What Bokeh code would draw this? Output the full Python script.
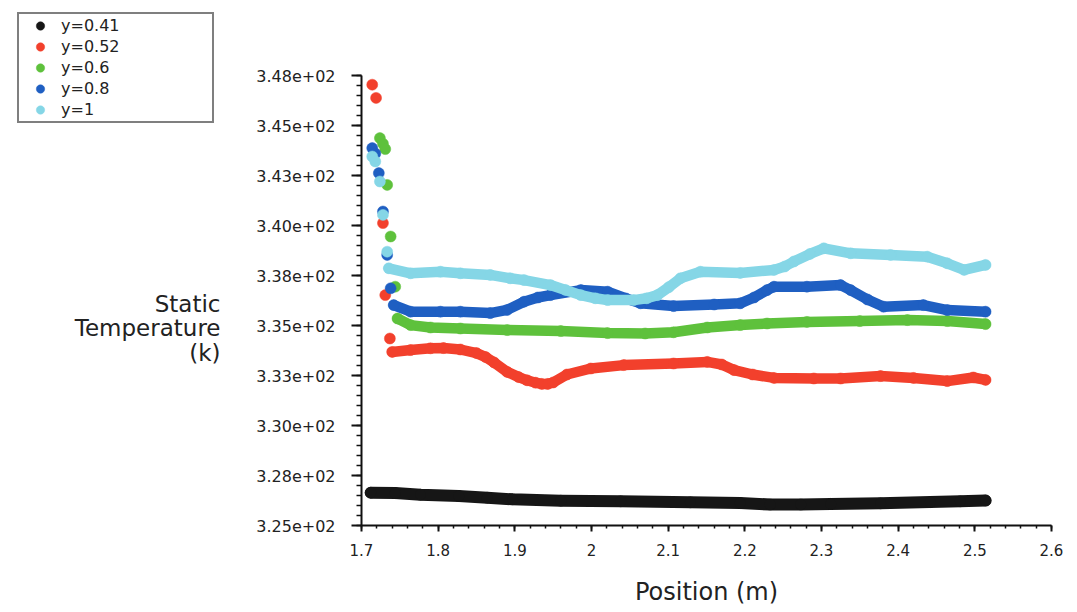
from bokeh.plotting import figure
from bokeh.models import FixedTicker, Legend, LegendItem, Label, Range1d, LinearAxis
from bokeh.embed import file_html
from bokeh.resources import INLINE

# ---- data: static temperature (K) against position (m) ----
# Isolated points at the leading edge, then the continuous profile.

t041_pos = [1.712, 1.744, 1.777, 1.827, 1.864, 1.897, 1.960, 2.038, 2.129,
            2.194, 2.233, 2.273, 2.312, 2.377, 2.442, 2.481, 2.514]
t041_val = [326.64, 326.62, 326.54, 326.47, 326.39, 326.31, 326.24, 326.21, 326.16,
            326.12, 326.05, 326.05, 326.08, 326.11, 326.17, 326.21, 326.25]

t052_tip_pos = [1.714, 1.719, 1.728, 1.731, 1.737]
t052_tip_val = [347.04, 346.38, 340.12, 336.52, 334.35]
t052_pos = [1.740, 1.764, 1.790, 1.807, 1.829, 1.850, 1.862, 1.873, 1.890, 1.905,
            1.916, 1.927, 1.935, 1.943, 1.950, 1.968, 1.999, 2.042, 2.107, 2.151,
            2.170, 2.186, 2.210, 2.238, 2.290, 2.325, 2.377, 2.420, 2.464, 2.498, 2.514]
t052_val = [333.68, 333.77, 333.86, 333.87, 333.80, 333.62, 333.42, 333.15, 332.68, 332.42,
            332.26, 332.14, 332.08, 332.08, 332.15, 332.55, 332.85, 333.02, 333.10, 333.18,
            333.05, 332.77, 332.55, 332.38, 332.35, 332.35, 332.47, 332.38, 332.22, 332.40,
            332.28]

t06_tip_pos = [1.724, 1.728, 1.731, 1.7335, 1.738, 1.744]
t06_tip_val = [344.37, 344.09, 343.82, 342.03, 339.45, 336.94]
t06_pos = [1.747, 1.764, 1.790, 1.829, 1.890, 1.960, 2.021, 2.070, 2.107, 2.151,
           2.194, 2.229, 2.281, 2.350, 2.412, 2.464, 2.514]
t06_val = [335.35, 335.02, 334.90, 334.85, 334.77, 334.72, 334.62, 334.60, 334.66, 334.90,
           335.02, 335.10, 335.18, 335.22, 335.27, 335.22, 335.07]

t08_tip_pos = [1.714, 1.718, 1.7226, 1.728, 1.7335, 1.738]
t08_tip_val = [343.87, 343.60, 342.62, 340.70, 338.53, 336.86]
t08_pos = [1.742, 1.764, 1.803, 1.829, 1.868, 1.890, 1.912, 1.930, 1.9465, 1.986,
           2.021, 2.045, 2.064, 2.107, 2.160, 2.194, 2.212, 2.229, 2.238, 2.281,
           2.325, 2.338, 2.360, 2.381, 2.433, 2.464, 2.514]
t08_val = [336.02, 335.69, 335.69, 335.69, 335.62, 335.78, 336.19, 336.40, 336.52, 336.77,
           336.69, 336.35, 336.11, 335.97, 336.05, 336.11, 336.40, 336.77, 336.94, 336.94,
           337.02, 336.77, 336.30, 335.94, 336.02, 335.77, 335.69]

t1_tip_pos = [1.714, 1.718, 1.724, 1.728, 1.7335]
t1_tip_val = [343.45, 343.20, 342.20, 340.53, 338.69]
t1_pos = [1.7356, 1.764, 1.803, 1.829, 1.868, 1.894, 1.912, 1.9465, 1.966, 1.986,
          2.005, 2.021, 2.055, 2.072, 2.086, 2.101, 2.116, 2.142, 2.194, 2.238,
          2.252, 2.264, 2.285, 2.303, 2.338, 2.390, 2.438, 2.464, 2.486, 2.514]
t1_val = [337.86, 337.61, 337.69, 337.61, 337.53, 337.36, 337.27, 337.02, 336.78, 336.52,
          336.36, 336.27, 336.27, 336.36, 336.52, 336.92, 337.36, 337.69, 337.63, 337.78,
          337.95, 338.20, 338.58, 338.86, 338.61, 338.53, 338.44, 338.11, 337.78, 338.03]

series_names = ["y=0.41", "y=0.52", "y=0.6", "y=0.8", "y=1"]

x_ticks = [1.7, 1.8, 1.9, 2.0, 2.1, 2.2, 2.3, 2.4, 2.5, 2.6]
x_tick_labels = ["1.7", "1.8", "1.9", "2", "2.1", "2.2", "2.3", "2.4", "2.5", "2.6"]
y_ticks = [325.0, 327.5, 330.0, 332.5, 335.0, 337.5, 340.0, 342.5, 345.0, 347.5]
y_tick_labels = ["3.25e+02", "3.28e+02", "3.30e+02", "3.33e+02", "3.35e+02",
                 "3.38e+02", "3.40e+02", "3.43e+02", "3.45e+02", "3.48e+02"]

colors = ["#161616", "#f2402c", "#5ec13c", "#1f5fc2", "#85d6e6"]
widths = [12, 10.5, 10.5, 10.5, 10.5]
FONT = "DejaVu Sans"
TEXT = "#222222"

# The frame fills the whole canvas; the axes sit at fixed data locations so
# the legend and titles in the margin area stay inside the drawable region.
p = figure(width=1077, height=612, output_backend="svg", toolbar_location=None,
           x_range=Range1d(1.22913, 2.63391), y_range=Range1d(320.65, 351.25),
           x_axis_location=None, y_axis_location=None, min_border=0)
p.outline_line_color = None
p.grid.visible = False
p.background_fill_color = "white"
p.border_fill_color = "white"

# ---- axes ----
xa = LinearAxis(fixed_location=325.0, bounds=(1.7, 2.6),
                ticker=FixedTicker(ticks=x_ticks,
                                   minor_ticks=[round(1.7 + 0.02 * i, 2) for i in range(46)]))
xa.major_label_overrides = {v: s for v, s in zip(x_ticks, x_tick_labels)}
xa.major_label_text_font = FONT
xa.major_label_text_font_size = "15px"
xa.major_label_text_color = TEXT
xa.major_label_standoff = 12
xa.major_tick_out = 6
xa.major_tick_in = 0
xa.minor_tick_out = 3
xa.minor_tick_in = 0

ya = LinearAxis(fixed_location=1.7, bounds=(325.0, 347.5),
                ticker=FixedTicker(ticks=y_ticks,
                                   minor_ticks=[325.0 + 0.5 * i for i in range(46)]))
ya.major_label_overrides = {v: s for v, s in zip(y_ticks, y_tick_labels)}
ya.major_label_text_font = FONT
ya.major_label_text_font_size = "16px"
ya.major_label_text_color = TEXT
ya.major_label_standoff = 16
ya.major_tick_out = 10
ya.major_tick_in = 0
ya.minor_tick_out = 5
ya.minor_tick_in = 0

for ax in (xa, ya):
    ax.axis_line_color = "#111111"
    ax.axis_line_width = 2
    ax.major_tick_line_color = "#111111"
    ax.major_tick_line_width = 2
    ax.minor_tick_line_color = "#111111"
    ax.minor_tick_line_width = 1.5

p.add_layout(xa, "below")
p.add_layout(ya, "left")

# ---- series ----
profiles = [
    ([], [], t041_pos, t041_val),
    (t052_tip_pos, t052_tip_val, t052_pos, t052_val),
    (t06_tip_pos, t06_tip_val, t06_pos, t06_val),
    (t08_tip_pos, t08_tip_val, t08_pos, t08_val),
    (t1_tip_pos, t1_tip_val, t1_pos, t1_val),
]

legend_items = []
for name, color, lw, (tx, tv, bx, bv) in zip(series_names, colors, widths, profiles):
    p.line(bx, bv, line_color=color, line_width=lw,
           line_join="round", line_cap="round")
    pts = p.scatter(list(tx) + list(bx), list(tv) + list(bv), marker="circle",
                    size=11, fill_color=color, line_color=color, line_width=0.5)
    legend_items.append(LegendItem(label=name, renderers=[pts]))

legend = Legend(items=legend_items, location=(17, 489),
                label_text_font=FONT, label_text_font_size="16px",
                label_text_color=TEXT,
                glyph_width=40, glyph_height=21, label_height=21,
                label_width=150, label_standoff=1, spacing=0, padding=1,
                margin=0, border_line_color="#000000", border_line_width=2,
                background_fill_color="white", background_fill_alpha=1.0)
p.add_layout(legend, "center")

# ---- axis titles ----
p.add_layout(Label(x=1.5161, y=334.85, text="Static\nTemperature\n(k)",
                   text_align="right", text_baseline="middle",
                   text_font=FONT, text_font_size="23px",
                   text_color=TEXT, text_line_height=0.95))
p.add_layout(Label(x=2.15, y=321.7, text="Position (m)",
                   text_align="center", text_baseline="middle",
                   text_font=FONT, text_font_size="24px", text_color=TEXT))

open("out.html", "w").write(file_html(p, INLINE))
